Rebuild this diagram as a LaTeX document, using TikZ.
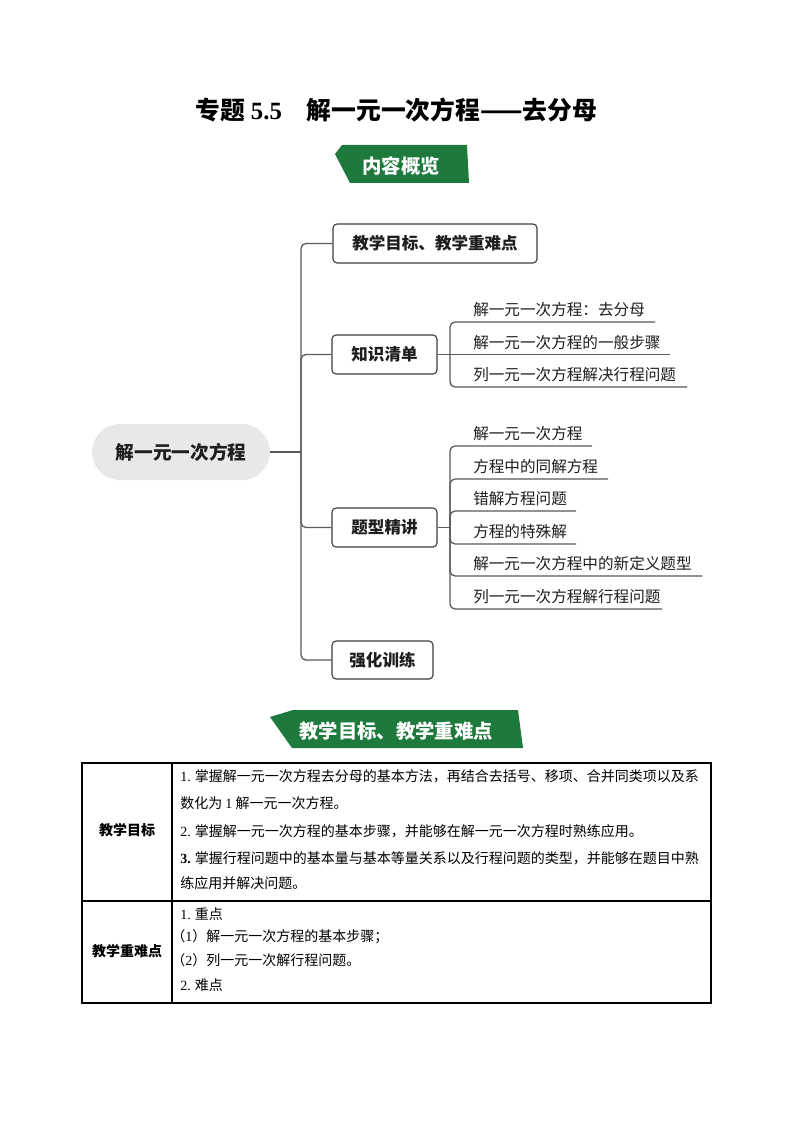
\documentclass[tikz,border=0pt]{standalone}
\usepackage{fontspec}
\setmainfont{Noto Sans CJK SC}
\newfontfamily\tnr{Liberation Serif}
\definecolor{bannergreen}{RGB}{30,122,60}
\definecolor{linegray}{RGB}{90,90,90}
\definecolor{rootgray}{RGB}{232,232,232}
\definecolor{boxline}{RGB}{60,60,60}
\definecolor{txt}{RGB}{30,30,30}
\newdimen\PX \PX=0.75pt
\begin{document}
\begin{tikzpicture}[x=0.75pt,y=-0.75pt,
  box/.style={draw=boxline, line width=1.1\PX, rounded corners=4\PX, minimum height=39\PX, inner sep=0pt, font=\fontsize{12.4}{14}\selectfont\bfseries, text=txt},
  conn/.style={draw=linegray, line width=1.3\PX, rounded corners=5\PX},
  leaf/.style={anchor=west, inner sep=0pt, font=\fontsize{11.7}{14}\selectfont, text=txt},
  cell/.style={anchor=west, inner sep=0pt, font=\fontsize{10.5}{12}\selectfont, text=black},
  celllabel/.style={inner sep=0pt, font=\fontsize{10.5}{12}\selectfont\bfseries, text=black},
  bannertext/.style={inner sep=0pt, text=white, font=\fontsize{14.5}{16}\selectfont\bfseries},
  tline/.style={draw=black, line width=1.2\PX}
]
\fill[white] (0,0) rectangle (794,1123);
\useasboundingbox (0,0) rectangle (794,1123);

% title
\node[inner sep=0pt, font=\fontsize{18.6}{20}\selectfont\bfseries, text=black] (title) at (396.5,110) {专题 {\tnr\bfseries 5.5}　解一元一次方程——去分母};

% banner 1
\fill[bannergreen] (335,154) -- (342,145) -- (467,145) -- (469,183) -- (350,183) -- cycle;
\node[bannertext] (ban1) at (401,166) {内容概览};

% mind map
\node[fill=rootgray, rounded corners=28\PX, minimum width=178\PX, minimum height=56\PX, inner sep=0pt, font=\fontsize{14}{16}\selectfont\bfseries, text=txt] (root) at (181,452) {解一元一次方程};

\node[box, minimum width=204\PX] (b1) at (435,243.5) {教学目标、教学重难点};
\node[box, minimum width=105\PX] (b2) at (384.5,354.5) {知识清单};
\node[box, minimum width=105\PX] (b3) at (384.5,527.5) {题型精讲};
\node[box, minimum width=101\PX, minimum height=38\PX] (b4) at (382.5,660) {强化训练};

\coordinate (sp) at (301,452);
\draw[conn] (root.east) -- (sp);
\draw[conn] (sp) |- (b1.west);
\draw[conn] (sp) |- (b2.west);
\draw[conn] (sp) |- (b3.west);
\draw[conn] (sp) |- (b4.west);

% knowledge leaves
\coordinate (k1) at (450,354.5);
\draw[conn] (b2.east) -- (k1);
\node[leaf] (l11) at (473,310) {解一元一次方程：去分母};
\node[leaf] (l12) at (473,342.5) {解一元一次方程的一般步骤};
\node[leaf] (l13) at (473,375) {列一元一次方程解决行程问题};
\coordinate (l11e) at (655,322);
\coordinate (l12e) at (670,354.5);
\coordinate (l13e) at (687,387);
\draw[conn] (k1) |- (l11e);
\draw[conn] (k1) -- (l12e);
\draw[conn] (k1) |- (l13e);

% question-type leaves
\coordinate (k2) at (450,527.5);
\draw[conn] (b3.east) -- (k2);
\node[leaf] (l21) at (473,434) {解一元一次方程};
\node[leaf] (l22) at (473,467) {方程中的同解方程};
\node[leaf] (l23) at (473,499) {错解方程问题};
\node[leaf] (l24) at (473,532) {方程的特殊解};
\node[leaf] (l25) at (473,564) {解一元一次方程中的新定义题型};
\node[leaf] (l26) at (473,597) {列一元一次方程解行程问题};
\coordinate (l21e) at (592,446);
\coordinate (l22e) at (608,479);
\coordinate (l23e) at (576,511);
\coordinate (l24e) at (576,544);
\coordinate (l25e) at (702,576);
\coordinate (l26e) at (662,609);
\draw[conn] (k2) |- (l21e);
\draw[conn] (k2) |- (l22e);
\draw[conn] (k2) |- (l23e);
\draw[conn] (k2) |- (l24e);
\draw[conn] (k2) |- (l25e);
\draw[conn] (k2) |- (l26e);

% banner 2
\fill[bannergreen] (270,717) -- (293,710) -- (518,710) -- (523,748) -- (292,748) -- cycle;
\node[bannertext] (ban2) at (396,731) {教学目标、教学重难点};

% table
\draw[tline] (82,763) rectangle (711,1003);
\draw[tline] (172,763) -- (172,1003);
\draw[tline] (82,901) -- (711,901);

\node[celllabel] (lab1) at (127,830) {教学目标};
\node[celllabel] (lab2) at (127,951) {教学重难点};

\node[cell] (r1a) at (180,776) {{\tnr 1.} 掌握解一元一次方程去分母的基本方法，再结合去括号、移项、合并同类项以及系};
\node[cell] (r1b) at (180,803) {数化为 {\tnr 1} 解一元一次方程。};
\node[cell] (r1c) at (180,831) {{\tnr 2.} 掌握解一元一次方程的基本步骤，并能够在解一元一次方程时熟练应用。};
\node[cell] (r1d) at (180,858) {{\tnr\bfseries 3.} 掌握行程问题中的基本量与基本等量关系以及行程问题的类型，并能够在题目中熟};
\node[cell] (r1e) at (180,883) {练应用并解决问题。};

\node[cell] (r2a) at (180,914) {{\tnr 1.} 重点};
\node[cell] (r2b) at (171,937) {（{\tnr 1}）解一元一次方程的基本步骤；};
\node[cell] (r2c) at (171,960) {（{\tnr 2}）列一元一次解行程问题。};
\node[cell] (r2d) at (180,985) {{\tnr 2.} 难点};
\end{tikzpicture}
\end{document}
